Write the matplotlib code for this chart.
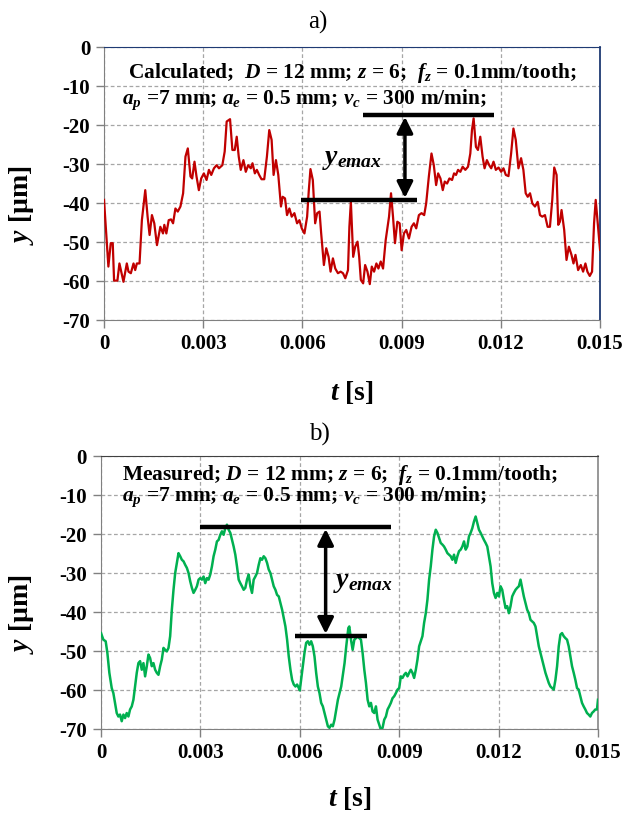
import numpy as np
import matplotlib
matplotlib.use("Agg")
import matplotlib.pyplot as plt

# fonts: Times-like bold serif, italic symbols through mathtext
plt.rcParams['font.family'] = ['Liberation Serif', 'DejaVu Serif']
plt.rcParams['font.weight'] = 'bold'
plt.rcParams['mathtext.fontset'] = 'custom'
plt.rcParams['mathtext.rm'] = 'Liberation Serif:bold'
plt.rcParams['mathtext.it'] = 'Liberation Serif:italic:bold'
plt.rcParams['mathtext.bf'] = 'Liberation Serif:bold'
plt.rcParams['axes.unicode_minus'] = False

# ---- data: (time in ms, displacement in um) ----
calc_points = [
    (0.000, -39.2), (0.132, -56.3), (0.203, -50.3), (0.264, -50.3), (0.304, -59.9),
    (0.405, -59.9), (0.466, -55.5), (0.588, -60.2), (0.689, -55.5), (0.740, -57.6),
    (0.811, -58.0), (0.892, -55.5), (0.943, -57.2), (0.993, -55.5), (1.074, -55.5),
    (1.145, -44.4), (1.247, -36.7), (1.318, -43.5), (1.378, -48.2), (1.449, -43.1),
    (1.520, -45.2), (1.601, -50.8), (1.703, -46.1), (1.784, -47.8), (1.824, -45.6),
    (1.885, -47.8), (1.956, -44.4), (2.027, -44.2), (2.088, -45.2), (2.159, -41.4),
    (2.230, -42.2), (2.311, -40.9), (2.392, -37.5), (2.463, -28.1), (2.534, -26.0),
    (2.615, -33.2), (2.666, -33.7), (2.736, -29.4), (2.797, -33.2), (2.868, -36.7),
    (2.939, -33.7), (3.020, -32.4), (3.101, -34.1), (3.172, -31.5), (3.243, -32.8),
    (3.324, -31.1), (3.405, -30.3), (3.476, -31.1), (3.578, -30.3), (3.649, -26.8),
    (3.709, -19.1), (3.811, -18.5), (3.882, -26.4), (3.953, -26.4), (4.013, -23.0),
    (4.074, -28.1), (4.135, -31.5), (4.216, -29.0), (4.287, -32.0), (4.358, -30.3),
    (4.439, -31.1), (4.490, -29.8), (4.561, -32.4), (4.622, -31.5), (4.692, -32.8),
    (4.763, -33.9), (4.845, -33.9), (4.926, -28.1), (4.997, -21.3), (5.068, -23.8),
    (5.128, -32.8), (5.199, -29.0), (5.270, -32.8), (5.351, -40.9), (5.402, -38.4),
    (5.473, -38.8), (5.534, -43.1), (5.605, -41.4), (5.676, -43.5), (5.757, -42.6),
    (5.838, -45.2), (5.909, -44.4), (5.980, -46.5), (6.061, -47.8), (6.142, -43.5),
    (6.193, -36.7), (6.243, -31.3), (6.314, -34.1), (6.385, -45.2), (6.446, -42.6),
    (6.517, -42.2), (6.567, -47.8), (6.649, -55.9), (6.720, -51.6), (6.791, -53.8),
    (6.851, -57.6), (6.922, -54.2), (6.993, -56.8), (7.074, -58.0), (7.155, -57.6),
    (7.226, -58.0), (7.297, -59.3), (7.378, -57.2), (7.420, -46.1), (7.465, -39.7),
    (7.535, -53.8), (7.595, -51.2), (7.666, -49.9), (7.716, -53.8), (7.766, -59.7),
    (7.836, -60.6), (7.896, -55.9), (7.967, -57.6), (8.037, -60.8), (8.097, -56.3),
    (8.167, -57.6), (8.237, -55.5), (8.298, -56.8), (8.368, -55.0), (8.438, -56.8),
    (8.518, -49.5), (8.619, -43.5), (8.679, -37.5), (8.739, -43.5), (8.799, -50.3),
    (8.870, -44.8), (8.940, -45.2), (9.000, -52.1), (9.070, -47.8), (9.140, -46.9),
    (9.221, -49.1), (9.301, -46.1), (9.371, -45.2), (9.441, -46.5), (9.522, -43.1),
    (9.602, -42.6), (9.682, -43.1), (9.742, -40.1), (9.823, -33.2), (9.903, -27.3),
    (9.973, -30.3), (10.043, -35.4), (10.104, -32.4), (10.174, -33.7), (10.244, -36.7),
    (10.304, -34.5), (10.375, -35.0), (10.445, -33.7), (10.525, -34.1), (10.585, -32.4),
    (10.645, -32.8), (10.706, -31.5), (10.776, -32.0), (10.846, -30.7), (10.926, -31.5),
    (11.007, -30.7), (11.077, -27.3), (11.127, -21.3), (11.177, -18.3), (11.247, -25.6),
    (11.308, -26.4), (11.378, -23.0), (11.448, -28.1), (11.508, -31.1), (11.578, -29.0),
    (11.649, -30.3), (11.709, -31.1), (11.779, -29.4), (11.849, -31.5), (11.930, -30.9),
    (12.010, -32.0), (12.080, -31.1), (12.150, -32.8), (12.231, -33.1), (12.311, -27.3),
    (12.381, -20.9), (12.451, -23.8), (12.532, -31.1), (12.612, -28.5), (12.682, -31.5),
    (12.752, -37.5), (12.813, -38.4), (12.883, -37.5), (12.953, -40.1), (13.033, -40.9),
    (13.114, -39.7), (13.184, -43.1), (13.254, -43.5), (13.334, -43.1), (13.415, -46.1),
    (13.485, -46.1), (13.555, -39.2), (13.615, -30.9), (13.686, -32.8), (13.736, -45.6),
    (13.786, -44.8), (13.836, -41.8), (13.916, -46.9), (13.986, -54.6), (14.057, -51.2),
    (14.137, -53.3), (14.197, -55.5), (14.257, -53.3), (14.337, -57.2), (14.418, -55.9),
    (14.488, -57.6), (14.558, -55.5), (14.618, -57.6), (14.689, -58.7), (14.759, -57.6),
    (14.819, -45.2), (14.869, -39.2), (15.000, -52.0),
]

meas_points = [
    (0.000, -45.4), (0.071, -47.1), (0.141, -47.5), (0.192, -50.5), (0.252, -55.6),
    (0.323, -59.5), (0.373, -60.8), (0.424, -63.3), (0.474, -65.9), (0.524, -66.8),
    (0.575, -66.3), (0.625, -68.0), (0.676, -66.3), (0.726, -67.2), (0.776, -65.9),
    (0.827, -66.8), (0.877, -65.0), (0.928, -64.2), (0.978, -62.5), (1.029, -59.1),
    (1.079, -55.6), (1.129, -53.1), (1.180, -52.6), (1.230, -54.8), (1.281, -53.1),
    (1.331, -56.5), (1.382, -53.9), (1.432, -50.9), (1.482, -51.8), (1.533, -53.9),
    (1.583, -53.1), (1.634, -54.8), (1.684, -55.6), (1.734, -56.1), (1.785, -53.9),
    (1.835, -52.2), (1.886, -49.2), (1.936, -49.7), (1.987, -50.1), (2.037, -49.2),
    (2.087, -46.2), (2.138, -39.4), (2.188, -34.3), (2.239, -30.0), (2.289, -27.4),
    (2.339, -24.9), (2.390, -25.7), (2.440, -26.6), (2.491, -27.0), (2.541, -27.9),
    (2.592, -28.7), (2.642, -30.0), (2.692, -32.1), (2.743, -33.8), (2.793, -35.1),
    (2.844, -34.3), (2.894, -33.4), (2.945, -31.7), (2.995, -31.3), (3.045, -31.7),
    (3.096, -30.9), (3.146, -32.6), (3.197, -31.3), (3.247, -31.7), (3.297, -30.4),
    (3.348, -28.3), (3.398, -25.7), (3.449, -24.0), (3.499, -21.9), (3.550, -21.5),
    (3.600, -20.2), (3.650, -19.3), (3.701, -20.2), (3.751, -18.5), (3.802, -17.6),
    (3.852, -18.9), (3.903, -19.7), (3.953, -21.5), (4.003, -23.2), (4.054, -25.3),
    (4.104, -28.3), (4.155, -31.7), (4.205, -32.6), (4.255, -33.4), (4.306, -34.3),
    (4.356, -33.8), (4.407, -31.7), (4.457, -30.4), (4.508, -33.4), (4.558, -35.1),
    (4.608, -31.7), (4.659, -30.9), (4.709, -30.0), (4.760, -27.9), (4.810, -26.2),
    (4.860, -26.6), (4.911, -25.7), (4.961, -26.2), (5.012, -27.4), (5.062, -29.1),
    (5.113, -30.0), (5.163, -31.7), (5.213, -33.4), (5.264, -34.3), (5.314, -35.6),
    (5.365, -36.0), (5.415, -37.7), (5.466, -39.4), (5.516, -41.5), (5.566, -43.7),
    (5.617, -47.1), (5.667, -51.4), (5.718, -54.8), (5.768, -57.4), (5.819, -58.6),
    (5.869, -59.1), (5.919, -58.6), (5.970, -59.5), (6.000, -60.1), (6.040, -57.4),
    (6.091, -53.9), (6.141, -50.5), (6.192, -47.9), (6.242, -47.5), (6.292, -48.4),
    (6.343, -47.5), (6.393, -48.8), (6.444, -51.4), (6.494, -55.6), (6.545, -59.1),
    (6.595, -60.8), (6.645, -63.3), (6.696, -64.2), (6.746, -65.9), (6.797, -67.6),
    (6.847, -69.3), (6.897, -69.7), (6.948, -68.9), (6.998, -69.3), (7.049, -67.6),
    (7.099, -65.0), (7.150, -62.5), (7.200, -60.8), (7.250, -59.1), (7.301, -56.1),
    (7.351, -53.1), (7.402, -48.8), (7.465, -44.1), (7.495, -43.7), (7.545, -47.1),
    (7.595, -49.7), (7.646, -47.1), (7.696, -46.7), (7.746, -46.2), (7.796, -46.7),
    (7.846, -47.1), (7.896, -50.5), (7.947, -54.8), (7.997, -58.2), (8.047, -62.5),
    (8.097, -64.2), (8.147, -63.3), (8.197, -65.5), (8.248, -65.9), (8.298, -64.2),
    (8.348, -67.6), (8.398, -68.9), (8.448, -70.2), (8.498, -69.7), (8.549, -67.6),
    (8.599, -66.8), (8.649, -65.0), (8.699, -64.2), (8.749, -63.3), (8.799, -62.1),
    (8.850, -61.6), (8.900, -60.8), (8.950, -59.9), (9.000, -59.5), (9.050, -56.5),
    (9.100, -56.9), (9.150, -56.1), (9.201, -55.6), (9.251, -56.5), (9.301, -55.6),
    (9.351, -54.8), (9.401, -55.6), (9.451, -56.9), (9.502, -54.8), (9.552, -52.2),
    (9.602, -48.8), (9.652, -47.5), (9.702, -46.2), (9.752, -42.8), (9.803, -40.3),
    (9.853, -36.8), (9.903, -31.7), (9.953, -28.3), (10.003, -24.0), (10.053, -20.6),
    (10.104, -18.9), (10.154, -19.7), (10.204, -21.0), (10.254, -22.3), (10.304, -22.7),
    (10.354, -23.2), (10.405, -24.0), (10.455, -24.9), (10.505, -25.3), (10.555, -25.7),
    (10.605, -26.6), (10.655, -25.3), (10.706, -27.4), (10.756, -25.7), (10.806, -24.4),
    (10.856, -24.0), (10.906, -23.2), (10.956, -21.9), (11.007, -24.0), (11.057, -23.2),
    (11.107, -20.6), (11.157, -19.7), (11.207, -18.5), (11.257, -16.8), (11.308, -15.5),
    (11.358, -17.2), (11.408, -18.9), (11.458, -19.7), (11.508, -20.6), (11.558, -21.5),
    (11.609, -22.3), (11.659, -23.2), (11.709, -25.7), (11.759, -28.3), (11.809, -32.6),
    (11.859, -35.1), (11.910, -36.4), (11.960, -35.1), (12.010, -36.0), (12.060, -33.4),
    (12.110, -34.3), (12.160, -36.8), (12.211, -39.0), (12.261, -38.5), (12.311, -40.3),
    (12.361, -38.5), (12.411, -36.0), (12.461, -35.1), (12.512, -34.3), (12.562, -33.8),
    (12.612, -33.4), (12.662, -31.7), (12.712, -33.8), (12.762, -36.0), (12.813, -37.7),
    (12.863, -39.4), (12.913, -40.3), (12.963, -42.0), (13.013, -42.4), (13.063, -42.8),
    (13.114, -43.7), (13.164, -46.2), (13.214, -48.8), (13.264, -50.5), (13.314, -52.2),
    (13.364, -53.9), (13.415, -55.6), (13.465, -56.9), (13.515, -58.2), (13.565, -59.1),
    (13.615, -59.5), (13.665, -59.9), (13.716, -57.4), (13.766, -53.9), (13.816, -48.8),
    (13.866, -45.8), (13.916, -45.4), (13.966, -46.2), (14.017, -46.7), (14.067, -47.1),
    (14.117, -48.8), (14.167, -51.4), (14.217, -53.9), (14.268, -55.6), (14.318, -57.4),
    (14.368, -59.5), (14.418, -59.9), (14.468, -61.6), (14.518, -63.3), (14.568, -64.2),
    (14.619, -65.0), (14.669, -65.9), (14.719, -66.3), (14.769, -66.8), (14.819, -65.9),
    (14.869, -65.5), (14.919, -65.0), (14.970, -65.0), (15.000, -62.5),
]

x_ticks = [0, 0.003, 0.006, 0.009, 0.012, 0.015]
x_tick_labels = ['0', '0.003', '0.006', '0.009', '0.012', '0.015']
y_ticks = [0, -10, -20, -30, -40, -50, -60, -70]
y_tick_labels = ['0', '-10', '-20', '-30', '-40', '-50', '-60', '-70']

# annotation levels (um) and spans (ms)
calc_top_level, calc_top_span = -17.4, (7.82, 11.78)
calc_low_level, calc_low_span = -39.2, (5.95, 9.45)
calc_arrow_t = 9.10
meas_top_level, meas_top_span = -18.2, (2.98, 8.75)
meas_low_level, meas_low_span = -46.1, (5.85, 8.03)
meas_arrow_t = 6.78

line1_calc = r'Calculated;  $\mathit{D}$ = 12 mm; $\mathit{z}$ = 6;  $\mathit{f_z}$ = 0.1mm/tooth;'
line1_meas = r'Measured; $\mathit{D}$ = 12 mm; $\mathit{z}$ = 6;  $\mathit{f_z}$ = 0.1mm/tooth;'
line2 = r'$\mathit{a_p}$ =7 mm; $\mathit{a_e}$ = 0.5 mm; $\mathit{v_c}$ = 300 m/min;'

t_calc_ms, y_calc = zip(*calc_points)
t_meas_ms, y_meas = zip(*meas_points)

fig = plt.figure(figsize=(6.27, 8.18), dpi=100)
ax1 = fig.add_axes([0.1659, 0.6088, 0.7911, 0.3337])
ax2 = fig.add_axes([0.1611, 0.1088, 0.7926, 0.3337])


def style_axes(ax, top_color, right_color, label_x):
    ax.set_xlim(0, 0.015)
    ax.set_ylim(-70, 0)
    ax.set_xticks(x_ticks)
    ax.set_xticklabels(x_tick_labels)
    ax.set_yticks(y_ticks)
    ax.set_yticklabels(y_tick_labels)
    ax.tick_params(labelsize=15, length=6, width=1, color='#808080', pad=4)
    for lab in ax.get_xticklabels() + ax.get_yticklabels():
        lab.set_fontweight('bold')
    ax.grid(True, color='#A6A6A6', linestyle=(0, (3, 2)), linewidth=0.9)
    ax.set_axisbelow(True)
    ax.spines['left'].set_color('#808080')
    ax.spines['bottom'].set_color('#808080')
    ax.spines['top'].set_color(top_color)
    ax.spines['right'].set_color(right_color)
    ax.spines['right'].set_linewidth(1.3)
    ax.set_xlabel(r'$\mathit{t}$ [s]', fontsize=20, fontweight='bold')
    ax.set_ylabel(r'$\mathit{y}$ [µm]', fontsize=20, fontweight='bold')
    ax.yaxis.set_label_coords(label_x, 0.42)


def mark_range(ax, top_level, top_span, low_level, low_span, arrow_t):
    ax.plot(np.array(top_span) / 1000, [top_level, top_level], color='black', lw=3.2,
            solid_capstyle='butt', zorder=4)
    ax.plot(np.array(low_span) / 1000, [low_level, low_level], color='black', lw=3.2,
            solid_capstyle='butt', zorder=4)
    ax.annotate('', xy=(arrow_t / 1000, top_level - 0.5), xytext=(arrow_t / 1000, low_level + 0.5),
                arrowprops=dict(arrowstyle='<|-|>', color='black', lw=2.5,
                                mutation_scale=24, shrinkA=0, shrinkB=0), zorder=5)


# ---- a) calculated ----
style_axes(ax1, '#1F3A73', '#1F3A73', -0.137)
ax1.plot(np.array(t_calc_ms) / 1000, y_calc, color='#C00000', lw=1.6, zorder=3)
mark_range(ax1, calc_top_level, calc_top_span, calc_low_level, calc_low_span, calc_arrow_t)
ax1.text(8.40 / 1000, -28.8, r'$\mathit{y_{emax}}$', fontsize=20, ha='right', va='center')
ax1.text(0.73 / 1000, -6.7, line1_calc, fontsize=15.4, ha='left', va='center')
ax1.text(0.54 / 1000, -13.6, line2, fontsize=15.4, ha='left', va='center')
ax1.xaxis.set_label_coords(0.5, -0.215)

# ---- b) measured ----
style_axes(ax2, '#404040', '#909090', -0.131)
ax2.plot(np.array(t_meas_ms) / 1000, y_meas, color='#00B050', lw=1.8, zorder=3)
mark_range(ax2, meas_top_level, meas_top_span, meas_low_level, meas_low_span, meas_arrow_t)
ax2.text(7.00 / 1000, -32.5, r'$\mathit{y_{emax}}$', fontsize=20, ha='left', va='center')
ax2.text(0.63 / 1000, -4.9, line1_meas, fontsize=15.4, ha='left', va='center')
ax2.text(0.63 / 1000, -10.5, line2, fontsize=15.4, ha='left', va='center')
ax2.xaxis.set_label_coords(0.5, -0.205)

fig.text(0.507, 1 - 22 / 818, 'a)', fontsize=18, fontweight='normal', ha='center', va='center')
fig.text(0.510, 1 - 434 / 818, 'b)', fontsize=18, fontweight='normal', ha='center', va='center')

fig.savefig('out.png', dpi=100)
